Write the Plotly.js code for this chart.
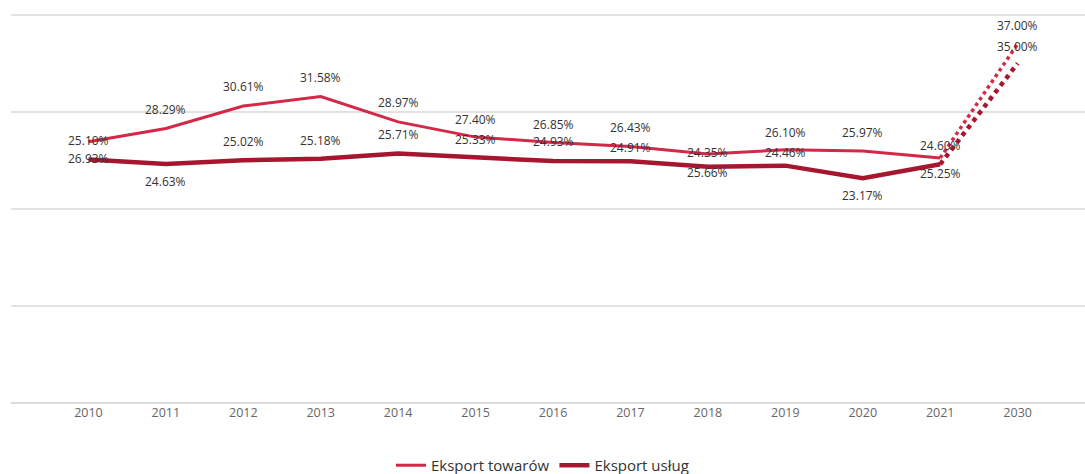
<!DOCTYPE html>
<html>
<head>
<meta charset="utf-8">
<script src="https://cdn.plot.ly/plotly-3.0.1.min.js"></script>
<style>html,body{margin:0;padding:0;background:#fff;}#chart{width:1085px;height:474px;}</style>
</head>
<body>
<div id="chart"></div>
<script>
// ---- data ----
const years = ['2010','2011','2012','2013','2014','2015','2016','2017','2018','2019','2020','2021'];
const forecastYears = ['2021','2030'];
const towary = [26.93, 28.29, 30.61, 31.58, 28.97, 27.40, 26.85, 26.43, 25.66, 26.10, 25.97, 25.25];
const uslugi = [25.10, 24.63, 25.02, 25.18, 25.71, 25.33, 24.93, 24.91, 24.35, 24.46, 23.17, 24.60];
const towaryForecast = [25.25, 37.00];
const uslugiForecast = [24.60, 35.00];
const seriesNames = ['Eksport towarów', 'Eksport usług'];
const allCategories = years.concat(['2030']);

// ---- styles (label placement in px, not data) ----
const towaryLabelShift = [-17, 19, 19, 19, 19, 18, 18, 19, -18, 17, 18, -16];
const uslugiLabelShift = [19, -17, 19, 18, 19, 18, 20, 14, 14, 13, -17, 19];
const towaryFcShift = [null, 18];
const uslugiFcShift = [null, 17];
const cTow = '#d42849';
const cUsl = '#a6172f';
const font = 'Open Sans, Noto Sans, sans-serif';

const traces = [
  {x: years, y: towary, type: 'scatter', mode: 'lines', name: seriesNames[0],
   line: {color: cTow, width: 3}, hoverinfo: 'skip'},
  {x: years, y: uslugi, type: 'scatter', mode: 'lines', name: seriesNames[1],
   line: {color: cUsl, width: 4.5}, hoverinfo: 'skip'},
  {x: forecastYears, y: towaryForecast, type: 'scatter', mode: 'lines', showlegend: false,
   line: {color: cTow, width: 3.5, dash: 'dot'}, hoverinfo: 'skip'},
  {x: forecastYears, y: uslugiForecast, type: 'scatter', mode: 'lines', showlegend: false,
   line: {color: cUsl, width: 4.5, dash: 'dot'}, hoverinfo: 'skip'}
];

const annotations = [];
function addLabels(xs, ys, shifts) {
  xs.forEach((x, i) => {
    if (shifts[i] === null) return;
    annotations.push({x: allCategories.indexOf(x), y: ys[i], xref: 'x', yref: 'y',
      text: ys[i].toFixed(2) + '%', showarrow: false, yshift: shifts[i],
      font: {family: font, size: 12, color: '#333'}});
  });
}
addLabels(years, towary, towaryLabelShift);
addLabels(years, uslugi, uslugiLabelShift);
addLabels(forecastYears, towaryForecast, towaryFcShift);
addLabels(forecastYears, uslugiForecast, uslugiFcShift);

const layout = {
  width: 1085, height: 474,
  margin: {l: 11, r: 0, t: 10, b: 71},
  paper_bgcolor: '#fff', plot_bgcolor: '#fff',
  showlegend: true,
  legend: {orientation: 'h', x: 0.5, xanchor: 'center', xref: 'container',
    y: 0.018, yanchor: 'middle', yref: 'container',
    font: {family: font, size: 15, color: '#333'}, tracegroupgap: 0},
  xaxis: {type: 'category', categoryorder: 'array', categoryarray: allCategories,
    range: [-1.0, 12.87], showgrid: false, zeroline: false, showline: false,
    ticks: '', tickfont: {family: font, size: 12.5, color: '#666'}, fixedrange: true},
  yaxis: {range: [0, 40.5], tickvals: [0, 10, 20, 30, 40], showgrid: true,
    gridcolor: '#e2e2e2', gridwidth: 1.5,
    zeroline: true, zerolinecolor: '#dcdcdc', zerolinewidth: 1.5,
    showticklabels: false, ticks: '', fixedrange: true},
  annotations: annotations
};

Plotly.newPlot('chart', traces, layout, {displayModeBar: false, staticPlot: true});
</script>
</body>
</html>
